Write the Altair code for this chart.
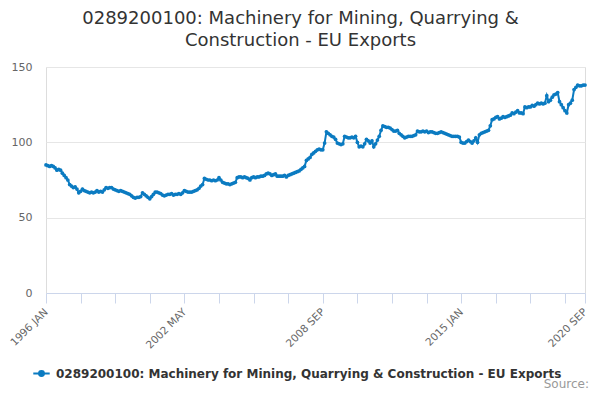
import altair as alt
import pandas as pd

SERIES = "0289200100: Machinery for Mining, Quarrying & Construction - EU Exports"
TITLE_LINES = ["0289200100: Machinery for Mining, Quarrying &", "Construction - EU Exports"]

START_YEAR = 1996
MONTHS = ["JAN", "FEB", "MAR", "APR", "MAY", "JUN", "JUL", "AUG", "SEP", "OCT", "NOV", "DEC"]

v1996 = [85, 84.5, 84, 84.5, 84, 83, 81.5, 82, 81.5, 79.5, 78, 76.5]
v1997 = [75, 72, 71, 70, 70.5, 69, 66.5, 67.5, 69, 68, 67.5, 67]
v1998 = [66.5, 67, 66.5, 67, 68, 67, 67.5, 67, 68.5, 70, 69.5, 70]
v1999 = [70, 69, 68.5, 68, 67.5, 68, 67.5, 67, 66.5, 66, 65.5, 64.5]
v2000 = [63.5, 63, 63.5, 63.5, 64, 66.5, 65.5, 64.5, 63.5, 62.5, 64, 65.5]
v2001 = [67, 67, 66.5, 66, 65, 64.5, 65, 65.5, 65.5, 66, 65, 65.5]
v2002 = [65.5, 66, 65.5, 66.5, 68, 67.5, 67, 67, 67, 67.5, 68, 68.5]
v2003 = [69.5, 71, 72, 76, 75.5, 75, 75, 74.5, 75, 74.5, 75, 76.5]
v2004 = [75, 73.5, 73, 72.5, 72.5, 72, 72.5, 73, 73.5, 76.5, 77, 77]
v2005 = [76.5, 77, 76.5, 76, 75, 76.5, 77, 76.5, 77, 77, 77.5, 77.5]
v2006 = [78, 79, 79.5, 79, 78, 78.5, 79, 77.5, 77.5, 77.5, 77.5, 78]
v2007 = [77, 78, 78.5, 79, 79.5, 80, 80.5, 81, 82, 83, 84, 88]
v2008 = [89, 90, 92, 93, 94, 95, 95.5, 95, 95, 99.5, 107, 106]
v2009 = [105, 104, 103.5, 102, 99.5, 99, 98.5, 99, 104, 103.5, 103, 103]
v2010 = [103.5, 103, 104, 100, 97, 97.5, 97, 99, 102, 101, 99.5, 101]
v2011 = [97, 99, 101.5, 104, 108, 111, 110.5, 110, 110, 109.5, 108.5, 107.5]
v2012 = [107.5, 108, 106, 105, 104, 103, 103.5, 104, 104, 104, 104.5, 105]
v2013 = [107.5, 107, 107, 107.5, 107, 107.5, 106.5, 107, 107, 106.5, 106, 106]
v2014 = [106.5, 107, 106.5, 106, 105.5, 105, 104.5, 104, 104, 104, 104, 103.5]
v2015 = [100, 99.5, 99.5, 100.5, 101.5, 100.5, 99.5, 101, 103, 100, 105, 106]
v2016 = [106.5, 107, 107.5, 108, 111, 115, 115.5, 116.5, 117, 115.5, 116, 117]
v2017 = [116.5, 117, 117.5, 118, 119.5, 119, 120, 121, 119.5, 119.5, 119, 123.5]
v2018 = [123, 123.5, 123.5, 124.5, 124, 125, 126, 125.5, 126, 125.5, 126, 131]
v2019 = [127, 128, 130, 131.5, 132, 133, 127, 125, 123, 121, 119.5, 125]
v2020 = [126, 128, 135, 136.5, 138, 137.5, 137.5, 138, 138]

yearly = [v1996, v1997, v1998, v1999, v2000, v2001, v2002, v2003, v2004, v2005,
          v2006, v2007, v2008, v2009, v2010, v2011, v2012, v2013, v2014, v2015,
          v2016, v2017, v2018, v2019, v2020]

rows = []
for yi, vals in enumerate(yearly):
    for mi, v in enumerate(vals):
        rows.append({"idx": yi * 12 + mi, "label": f"{START_YEAR + yi} {MONTHS[mi]}",
                     "value": v, "series": SERIES})
df = pd.DataFrame(rows)
last = len(df) - 1

tick_values = list(range(0, last, 19)) + [last]
label_idx = [0, 76, 152, 228, last]
label_map = {i: df.loc[i, "label"] for i in label_idx}
label_expr = " : ".join(f"datum.value == {i} ? '{t}'" for i, t in label_map.items()) + " : ''"

COLOR = "#0b7bc1"
FONT = "DejaVu Sans"

x = alt.X("idx:Q", scale=alt.Scale(domain=[0, last], nice=False, zero=False),
          axis=alt.Axis(values=tick_values, labelExpr=label_expr, labelAngle=-45,
                        labelAlign="right", labelBaseline="middle", labelColor="#666666",
                        labelFontSize=10.5, labelFont=FONT, grid=False, tickColor="#ccd6eb",
                        tickSize=10, domainColor="#ccd6eb", title=None, labelOverlap=False,
                        labelPadding=7))
y = alt.Y("value:Q", scale=alt.Scale(domain=[0, 150], nice=False),
          axis=alt.Axis(values=[0, 50, 100, 150], grid=True, gridColor="#e6e6e6",
                        domain=False, ticks=False, labelColor="#666666", labelFontSize=11,
                        labelFont=FONT, labelPadding=14, title=None))

color = alt.Color("series:N", scale=alt.Scale(range=[COLOR]),
                  legend=alt.Legend(title=None, orient="none", legendX=-14, legendY=297,
                                    labelFont=FONT, labelFontSize=12, labelFontWeight="bold",
                                    labelColor="#333333", labelLimit=600, padding=0,
                                    symbolType="M-1,0L1,0M-0.3,0A0.3,0.3 0 1,0 0.3,0A0.3,0.3 0 1,0 -0.3,0",
                                    symbolSize=270, symbolStrokeWidth=2, symbolFillColor=COLOR,
                                    symbolStrokeColor=COLOR, labelOffset=5))

base = alt.Chart(df)
line = base.mark_line(strokeWidth=2).encode(x=x, y=y, color=color)
pts = base.mark_point(filled=True, size=14, opacity=1).encode(x=x, y=y, color=color)

source = alt.Chart(pd.DataFrame({"t": ["Source:"]})).mark_text(
    align="right", baseline="alphabetic", font=FONT, fontSize=12, color="#999999"
).encode(text="t:N", x=alt.value(543), y=alt.value(321))

chart = alt.layer(line, pts, source).properties(
    width=539, height=226,
    title=alt.TitleParams(TITLE_LINES, anchor="middle", font=FONT, fontSize=18,
                          fontWeight="normal", color="#333333", dx=-15, offset=11,
                          lineHeight=22),
    autosize=alt.AutoSizeParams(type="none"),
    padding={"left": 38, "top": 59, "right": 7, "bottom": 99},
).configure_view(stroke=None).configure(background="white")

chart.save("out.html", embed_options={"renderer": "svg", "actions": False})
